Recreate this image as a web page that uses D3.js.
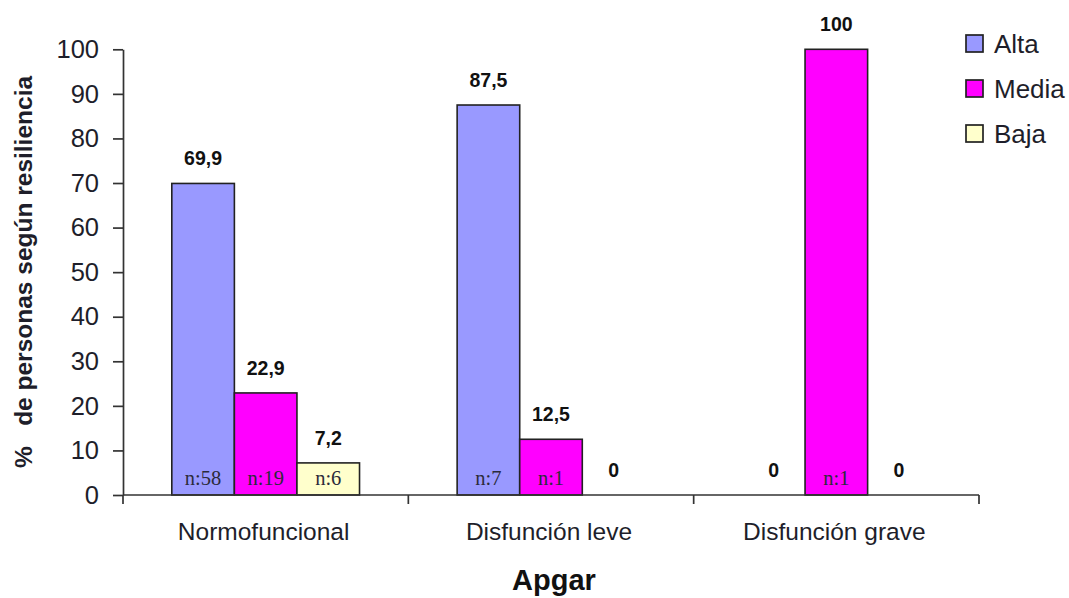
<!DOCTYPE html>
<html>
<head>
<meta charset="utf-8">
<script src="https://cdn.jsdelivr.net/npm/d3@7"></script>
<style>
  html, body { margin: 0; padding: 0; background: #fff; }
  svg { display: block; font-family: Arial, "Liberation Sans", sans-serif; }
</style>
</head>
<body>
<svg id="chart" width="1069" height="598"></svg>
<script>
// Apgar categories and resilience levels
const categories = ["Normofuncional", "Disfunción leve", "Disfunción grave"];
const series = ["Alta", "Media", "Baja"];
// percentages per category, in series order
const alta  = [69.9, 87.5, 0];
const media = [22.9, 12.5, 100];
const baja  = [7.2, 0, 0];
// counts printed inside bars (null = no count shown)
const nAlta  = [58, 7, null];
const nMedia = [19, 1, 1];
const nBaja  = [6, null, null];
const yTicks = [0, 10, 20, 30, 40, 50, 60, 70, 80, 90, 100];
const colors = ["#9999ff", "#ff00ff", "#ffffcc"];

const values = [alta, media, baja];
const counts = [nAlta, nMedia, nBaja];
const fmt = v => String(v).replace(".", ",");

const svg = d3.select("#chart");
const plotLeft = 123, plotRight = 979, plotTop = 49.3, plotBottom = 495;

const x0 = d3.scaleBand().domain(categories).range([plotLeft, plotRight]);
const x1 = d3.scaleBand().domain(series).range([0, x0.bandwidth()]).paddingOuter(0.78);
const y = d3.scaleLinear().domain([0, 100]).range([plotBottom, plotTop]);

const data = [];
categories.forEach((c, ci) => series.forEach((s, si) => {
  data.push({ c, s, si, v: values[si][ci], n: counts[si][ci] });
}));

// bars
svg.append("g").selectAll("rect")
  .data(data.filter(d => d.v > 0))
  .join("rect")
  .attr("x", d => x0(d.c) + x1(d.s))
  .attr("y", d => y(d.v))
  .attr("width", x1.bandwidth())
  .attr("height", d => y(0) - y(d.v))
  .attr("fill", d => colors[d.si])
  .attr("stroke", "#222")
  .attr("stroke-width", 1.6);

// value labels
svg.append("g").selectAll("text")
  .data(data)
  .join("text")
  .attr("x", d => x0(d.c) + x1(d.s) + x1.bandwidth() / 2)
  .attr("y", d => y(d.v) - 18)
  .attr("text-anchor", "middle")
  .attr("font-weight", "bold")
  .attr("font-size", 19.5)
  .attr("fill", "#111")
  .text(d => fmt(d.v));

// counts inside bars
svg.append("g").selectAll("text")
  .data(data.filter(d => d.n !== null))
  .join("text")
  .attr("x", d => x0(d.c) + x1(d.s) + x1.bandwidth() / 2)
  .attr("y", y(0) - 10)
  .attr("text-anchor", "middle")
  .attr("font-family", "'Liberation Serif', 'Times New Roman', serif")
  .attr("font-size", 20.5)
  .attr("fill", "#2b2b3a")
  .text(d => "n:" + d.n);

// y axis
const yAxis = svg.append("g")
  .attr("transform", `translate(${plotLeft},0)`)
  .call(d3.axisLeft(y).tickValues(yTicks).tickSize(10).tickPadding(14).tickSizeOuter(0));
yAxis.select(".domain").attr("stroke", "#333").attr("stroke-width", 1.7);
yAxis.selectAll(".tick line").attr("stroke", "#333").attr("stroke-width", 1.7);
yAxis.selectAll(".tick text")
  .attr("font-size", 25.5).attr("fill", "#1e1e2a")
  .attr("font-family", "Arial, 'Liberation Sans', sans-serif");

// x axis with ticks at category boundaries
const xg = svg.append("g").attr("transform", `translate(0,${plotBottom})`);
xg.append("line").attr("x1", plotLeft).attr("x2", plotRight)
  .attr("stroke", "#333").attr("stroke-width", 1.7);
const bounds = categories.map(c => x0(c)).concat([plotRight]);
xg.selectAll("line.tk").data(bounds).join("line")
  .attr("class", "tk")
  .attr("x1", d => d).attr("x2", d => d)
  .attr("y1", 0).attr("y2", 9)
  .attr("stroke", "#333").attr("stroke-width", 1.7);
xg.selectAll("text").data(categories).join("text")
  .attr("x", d => x0(d) + x0.bandwidth() / 2 - 2)
  .attr("y", 45)
  .attr("text-anchor", "middle")
  .attr("font-size", 24.5)
  .attr("fill", "#1e1e2a")
  .text(d => d);

// axis titles
svg.append("text")
  .attr("x", (plotLeft + plotRight) / 2 + 3)
  .attr("y", 590)
  .attr("text-anchor", "middle")
  .attr("font-weight", "bold")
  .attr("font-size", 29)
  .attr("fill", "#111")
  .text("Apgar");

svg.append("text")
  .attr("transform", "translate(32,272) rotate(-90)")
  .attr("text-anchor", "middle")
  .attr("font-weight", "bold")
  .attr("font-size", 24.5)
  .attr("fill", "#1e1e2a")
  .style("white-space", "pre")
  .text("%   de personas según resiliencia");

// legend
const lg = svg.append("g").attr("transform", "translate(966,35)");
series.forEach((s, i) => {
  const g = lg.append("g").attr("transform", `translate(0,${i * 45})`);
  g.append("rect").attr("width", 17).attr("height", 17)
    .attr("fill", colors[i]).attr("stroke", "#222").attr("stroke-width", 1.7);
  g.append("text").attr("x", 28).attr("y", 17.5)
    .attr("font-size", 26).attr("fill", "#1e1e2a").text(s);
});
</script>
</body>
</html>
